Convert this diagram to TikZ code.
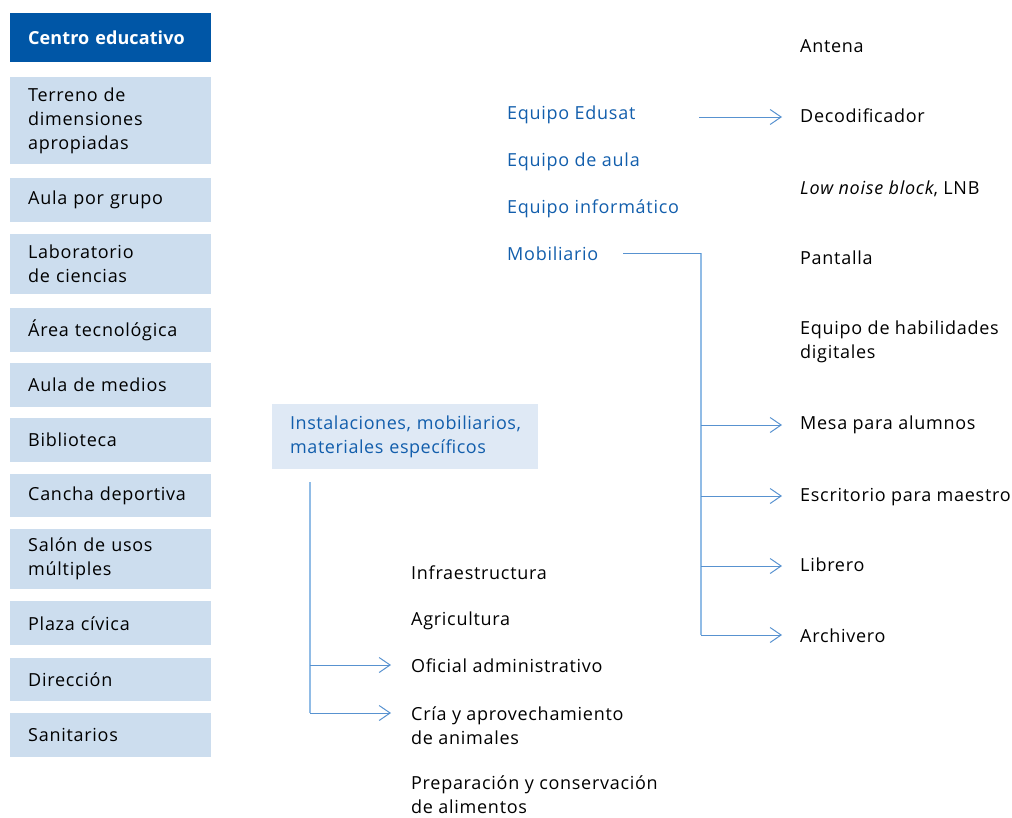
\documentclass[tikz,border=0pt]{standalone}
\usepackage{fontspec}
\setmainfont{Open Sans}[LetterSpace=4,BoldFeatures={LetterSpace=0.5}]
\usetikzlibrary{arrows.meta}
\definecolor{darkbox}{RGB}{0,86,166}
\definecolor{lightbox}{RGB}{204,221,238}
\definecolor{palebox}{RGB}{223,233,245}
\definecolor{bluetext}{RGB}{18,94,172}
\definecolor{branchc}{RGB}{88,146,208}
\definecolor{trunkc}{RGB}{145,188,230}
\begin{document}
\begin{tikzpicture}[x=1pt,y=-1pt,
  font=\fontsize{18}{24}\selectfont,
  lbox/.style={anchor=north west, fill=lightbox, minimum width=201pt, text width=165pt,
    inner xsep=18pt, inner ysep=0pt, align=left},
  hbox/.style={lbox, fill=darkbox, text=white, font=\fontsize{18}{24}\selectfont\bfseries},
  lbl/.style={anchor=base west, inner sep=0pt, align=left},
  blbl/.style={lbl, text=bluetext},
  branch/.style={draw=branchc, line width=1pt, -{Straight Barb[length=11pt,width=15pt,line width=1pt]}},
  hline/.style={draw=branchc, line width=1pt},
  trunk/.style={draw=trunkc, line width=2.6pt}
]
\useasboundingbox (0,0) rectangle (1012,817);

% left column
\node[hbox, minimum height=49pt] (centro) at (10,13) {Centro educativo};
\node[lbox, minimum height=87pt] (terreno) at (10,77) {Terreno de\\dimensiones\\apropiadas};
\node[lbox, minimum height=44pt] (aula) at (10,178) {Aula por grupo};
\node[lbox, minimum height=60pt] (lab) at (10,234) {Laboratorio\\de ciencias};
\node[lbox, minimum height=44pt] (area) at (10,308) {Área tecnológica};
\node[lbox, minimum height=44pt] (medios) at (10,363) {Aula de medios};
\node[lbox, minimum height=44pt] (biblio) at (10,418) {Biblioteca};
\node[lbox, minimum height=43pt] (cancha) at (10,474) {Cancha deportiva};
\node[lbox, minimum height=60pt] (salon) at (10,529) {Salón de usos\\múltiples};
\node[lbox, minimum height=44pt] (plaza) at (10,601) {Plaza cívica};
\node[lbox, minimum height=43pt] (direccion) at (10,658) {Dirección};
\node[lbox, minimum height=44pt] (sanit) at (10,713) {Sanitarios};

% instalaciones box
\node[anchor=north west, fill=palebox, minimum width=266pt, minimum height=65pt,
  text width=236pt, inner xsep=15pt, inner ysep=0pt, align=left, text=bluetext,
  font=\fontsize{18}{24}\selectfont\addfontfeature{LetterSpace=3}] (inst) at (272,404)
  {\hspace*{3pt}Instalaciones, mobiliarios,\\\hspace*{3pt}materiales específicos};

% middle blue labels
\node[blbl] (edusat) at (507,119) {Equipo Edusat};
\node[blbl] (eqaula) at (507,166) {Equipo de aula};
\node[blbl] (info) at (507,213) {Equipo informático};
\node[blbl] (mob) at (507,260) {Mobiliario};

% right labels (base = last line)
\node[lbl] (antena) at (800,52) {Antena};
\node[lbl] (deco) at (800,122) {Decodificador};
\node[lbl] (lnb) at (800,194) {\textit{Low noise block}, LNB};
\node[lbl] (pantalla) at (800,264) {Pantalla};
\node[lbl] (habil) at (800,358) {Equipo de habilidades\\digitales};
\node[lbl] (mesa) at (800,429) {Mesa para alumnos};
\node[lbl] (escrit) at (800,501) {Escritorio para maestro};
\node[lbl] (librero) at (800,571) {Librero};
\node[lbl] (archivo) at (800,642) {Archivero};

% bottom labels
\node[lbl] (infra) at (411,579) {Infraestructura};
\node[lbl] (agri) at (411,625) {Agricultura};
\node[lbl] (oficial) at (411,672) {Oficial administrativo};
\node[lbl] (cria) at (411,744) {Cría y aprovechamiento\\de animales};
\node[lbl] (prep) at (411,813) {Preparación y conservación\\de alimentos};

% Edusat arrow
\coordinate (edout) at (699,117);
\draw[branch, shorten >=18pt] (edout) -- (edout -| deco.west);

% Mobiliario tree
\coordinate (mobout) at (623,253);
\coordinate (mobcorner) at (701,253);
\coordinate (mobbottom) at (701,635);
\coordinate (m1) at (701,425);
\coordinate (m2) at (701,496);
\coordinate (m3) at (701,566);
\draw[trunk] (mobcorner) -- (mobbottom);
\draw[hline] (mobout) -- (mobcorner);
\draw[branch, shorten >=18pt] (m1) -- (m1 -| mesa.west);
\draw[branch, shorten >=18pt] (m2) -- (m2 -| escrit.west);
\draw[branch, shorten >=18pt] (m3) -- (m3 -| librero.west);
\draw[branch, shorten >=18pt] (mobbottom) -- (mobbottom -| archivo.west);

% Instalaciones tree
\coordinate (itop) at (310,482);
\coordinate (i1) at (310,665);
\coordinate (ibottom) at (310,713);
\draw[trunk] (itop) -- (ibottom);
\draw[branch, shorten >=20pt] (i1) -- (i1 -| oficial.west);
\draw[branch, shorten >=20pt] (ibottom) -- (ibottom -| cria.west);
\end{tikzpicture}
\end{document}
